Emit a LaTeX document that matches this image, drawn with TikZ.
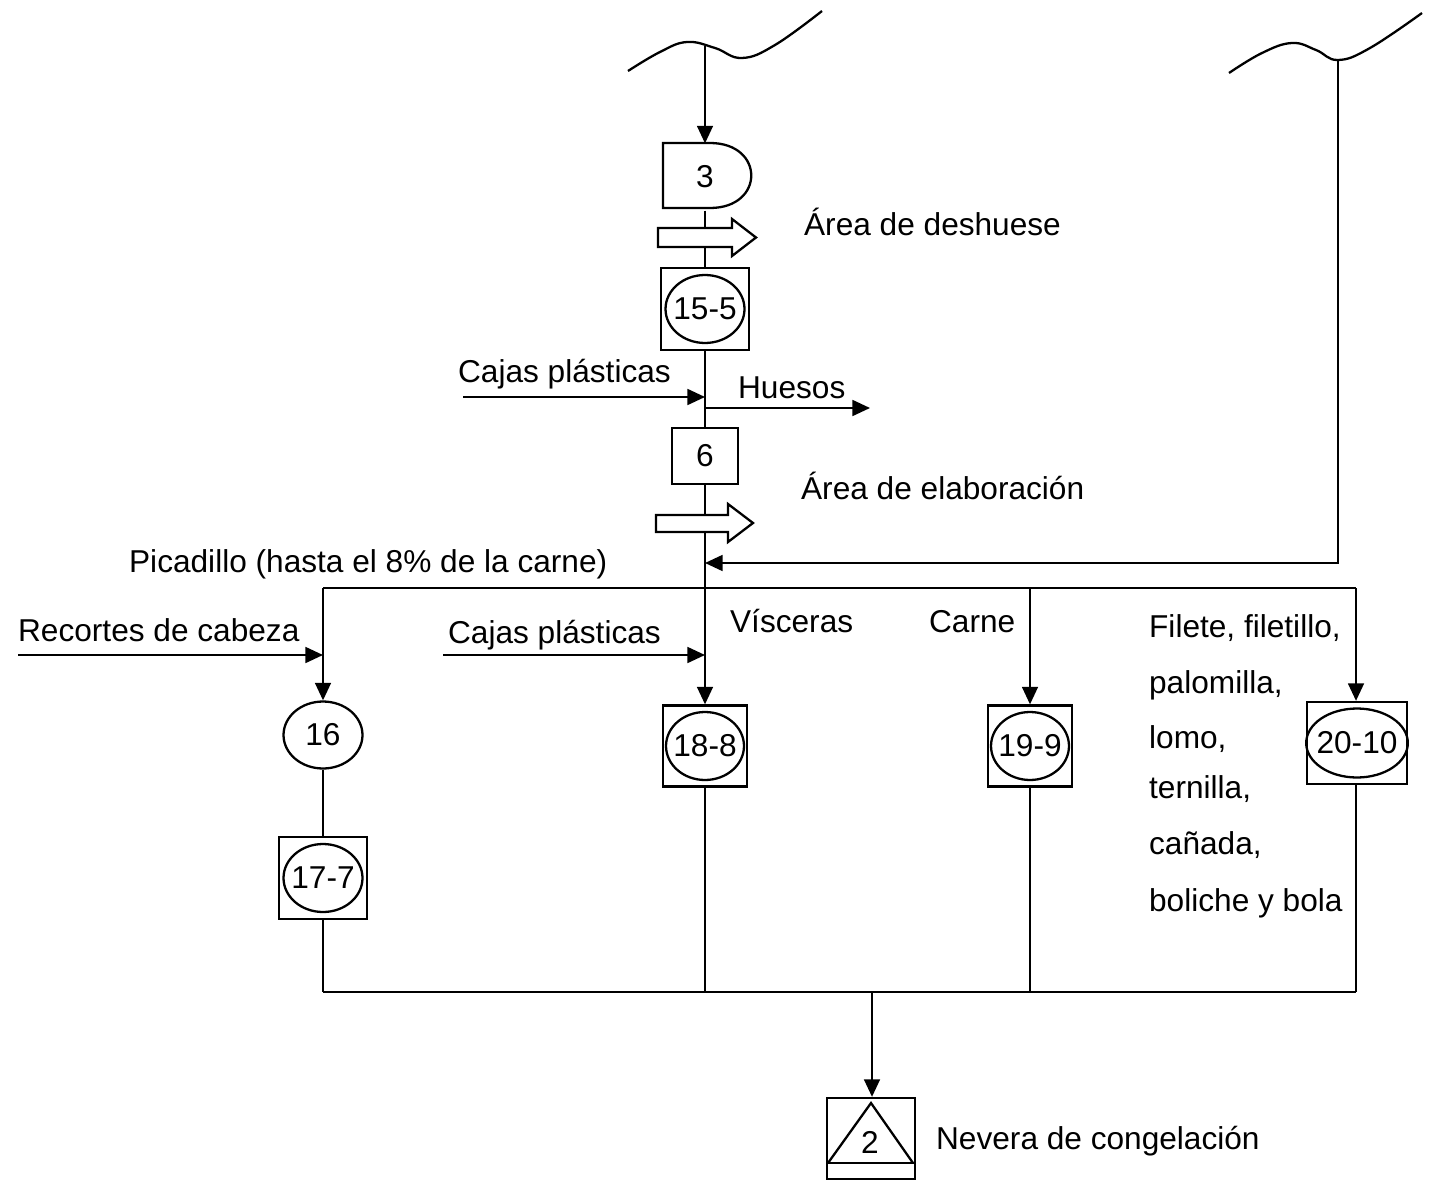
\documentclass[tikz,border=0pt]{standalone}
\usepackage{fontspec}
\setmainfont{Liberation Sans}
\usetikzlibrary{arrows.meta,shapes.geometric}
\begin{document}
\begin{tikzpicture}[x=0.02cm,y=-0.02cm,
  line width=1.3pt,
  every node/.style={font=\fontsize{18}{22}\selectfont, inner sep=0pt},
  lbl/.style={anchor=base west},
  box/.style={draw, rectangle, line width=1.3pt},
  oval/.style={draw, ellipse, line width=1.3pt, inner xsep=-0.09cm},
  arr/.style={-{Triangle[length=10pt,width=9pt]}},
  transp/.style={draw, fill=white, line width=1.3pt, line join=miter}]
\useasboundingbox (0,0) rectangle (1429,1182);

% wavy source lines
\draw plot[smooth, tension=0.7] coordinates {(628,71) (660,52) (687,42) (715,48) (742,58) (775,45) (822,11)};
\draw plot[smooth, tension=0.7] coordinates {(1229,73) (1262,53) (1292,43) (1316,50) (1338,60) (1370,48) (1422,13)};
\coordinate (w1) at (705,46);
\coordinate (w2) at (1338,60);

% delay 3
\node[minimum width=1.68cm, minimum height=1.3cm] (d3) at (705,177) {3};
\draw (663,143) -- (710,143) .. controls (765,143) and (765,208) .. (710,208) -- (663,208) -- cycle;

% operation/inspection 15-5
\node[box, minimum width=1.76cm, minimum height=1.64cm] (b15) at (705,309) {};
\node[oval, minimum width=1.58cm, minimum height=1.36cm] (e15) at (b15) {15-5};

% inspection 6
\node[box, minimum width=1.32cm, minimum height=1.12cm] (b6) at (705,456) {6};

% operation 16 and combined 17-7
\node[oval, minimum width=1.58cm, minimum height=1.34cm] (n16) at (323,735) {16};
\node[box, minimum width=1.76cm, minimum height=1.64cm] (b17) at (323,878) {};
\node[oval, minimum width=1.58cm, minimum height=1.36cm] (e17) at (b17) {17-7};

% combined 18-8, 19-9, 20-10
\node[box, minimum width=1.68cm, minimum height=1.62cm] (b18) at (705,746) {};
\node[oval, minimum width=1.56cm, minimum height=1.36cm] (e18) at (b18) {18-8};
\node[box, minimum width=1.68cm, minimum height=1.62cm] (b19) at (1030,746) {};
\node[oval, minimum width=1.56cm, minimum height=1.36cm] (e19) at (b19) {19-9};
\node[box, minimum width=2.0cm, minimum height=1.64cm] (b20) at (1357,743) {};
\node[oval, minimum width=1.88cm, minimum height=1.38cm] (e20) at (b20) {20-10};

% storage 2
\node[box, minimum width=1.76cm, minimum height=1.62cm] (b2) at (871,1138.5) {};
\draw (827,1163) -- (915,1163);
\draw[line join=miter] (828,1163) -- (871,1103) -- (913,1163);
\node (t2) at (870,1142) {2};

% flow lines
\draw[arr] (w1) -- (d3.north);
\draw (d3.south) -- (b15.north);
\draw (b15.south) -- (b6.north);
\draw[arr] (b6.south) -- (b18.north);

\coordinate (cin1) at (463,397);
\coordinate (jin1) at (705,397);
\draw[arr] (cin1) -- (jin1);
\coordinate (jout) at (705,408);
\coordinate (hout) at (870,408);
\draw[arr] (jout) -- (hout);

\coordinate (r1) at (1338,563);
\coordinate (jr) at (705,563);
\draw[arr] (w2) -- (r1) -- (jr);

\coordinate (sl) at (323,588);
\coordinate (sm) at (1030,588);
\coordinate (sr) at (1356,588);
\draw (sl) -- (sr);
\draw[arr] (sl) -- (n16.north);
\draw[arr] (sm) -- (b19.north);
\draw[arr] (sr) -- (sr |- b20.north);

\coordinate (rc) at (18,655);
\coordinate (rcj) at (323,655);
\draw[arr] (rc) -- (rcj);
\coordinate (cin2) at (443,655);
\coordinate (jin2) at (705,655);
\draw[arr] (cin2) -- (jin2);

\draw (n16.south) -- (b17.north);
\coordinate (bl) at (323,992);
\coordinate (bm) at (705,992);
\coordinate (bc) at (1030,992);
\coordinate (br) at (1356,992);
\coordinate (bj) at (872,992);
\draw (b17.south) -- (bl);
\draw (b18.south) -- (bm);
\draw (b19.south) -- (bc);
\draw (b20.south -| br) -- (br);
\draw (bl) -- (br);
\draw[arr] (bj) -- (bj |- b2.north);

% transport symbols
\draw[transp] (658,228) -- (732,228) -- (732,219) -- (756,237.5) -- (732,256) -- (732,247) -- (658,247) -- cycle;
\draw[transp] (656,515) -- (728,515) -- (728,504) -- (753,523) -- (728,542) -- (728,532) -- (656,532) -- cycle;

% labels
\node[lbl] at (803,236) {Área de deshuese};
\node[lbl] at (457,382) {Cajas plásticas};
\node[lbl] at (737,398) {Huesos};
\node[lbl] at (800,499) {Área de elaboración};
\node[lbl] at (128,572) {Picadillo (hasta el 8\% de la carne)};
\node[lbl] at (17,641) {Recortes de cabeza};
\node[lbl] at (447,643) {Cajas plásticas};
\node[lbl] at (729,632) {Vísceras};
\node[lbl] at (928,632) {Carne};
\node[lbl] at (1148,637) {Filete, filetillo,};
\node[lbl] at (1148,693) {palomilla,};
\node[lbl] at (1148,748) {lomo,};
\node[lbl] at (1148,798) {ternilla,};
\node[lbl] at (1148,854) {cañada,};
\node[lbl] at (1148,911) {boliche y bola};
\node[lbl] at (935,1149) {Nevera de congelación};
\end{tikzpicture}
\end{document}
